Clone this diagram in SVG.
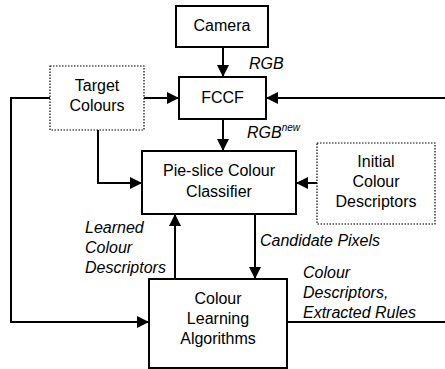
<svg xmlns="http://www.w3.org/2000/svg" width="445" height="369" viewBox="0 0 445 369">
<style>
  text { font-family: "Liberation Sans", Arial, sans-serif; font-size: 16px; fill: #000; }
  .c { text-anchor: middle; }
  .i { font-style: italic; }
  .box { fill: #fff; stroke: #000; stroke-width: 2; }
  .dot { fill: #fff; stroke: #000; stroke-width: 1.2; stroke-dasharray: 1.5 1.5; }
  .ln { fill: none; stroke: #000; stroke-width: 2; }
</style>
<defs>
  <marker id="ah" markerUnits="userSpaceOnUse" viewBox="0 0 12 12" refX="12" refY="6" markerWidth="12" markerHeight="12" orient="auto">
    <polygon points="0,0 12,6 0,12" fill="#000"/>
  </marker>
</defs>
<rect width="445" height="369" fill="#fff"/>
<g id="connectors">
  <path class="ln" d="M223,47 V77" marker-end="url(#ah)"/>
  <path class="ln" d="M144,98 H179" marker-end="url(#ah)"/>
  <path class="ln" d="M445,98 H266" marker-end="url(#ah)"/>
  <path class="ln" d="M223,119 V151" marker-end="url(#ah)"/>
  <path class="ln" d="M98,130 V183 H142" marker-end="url(#ah)"/>
  <path class="ln" d="M317,183 H296" marker-end="url(#ah)"/>
  <path class="ln" d="M50,98 H11 V322 H149" marker-end="url(#ah)"/>
  <path class="ln" d="M175,279 V214" marker-end="url(#ah)"/>
  <path class="ln" d="M255,214 V279" marker-end="url(#ah)"/>
  <path class="ln" d="M287,322 H445"/>
  <text class="i" x="249" y="69">RGB</text>
  <text class="i" x="247" y="138">RGB<tspan font-size="10" dy="-7">new</tspan></text>
  <text class="i" x="85" y="233">Learned</text>
  <text class="i" x="85" y="253">Colour</text>
  <text class="i" x="85" y="273">Descriptors</text>
  <text class="i" x="260" y="246">Candidate Pixels</text>
  <text class="i" x="303" y="278">Colour</text>
  <text class="i" x="303" y="298">Descriptors,</text>
  <text class="i" x="303" y="318">Extracted Rules</text>
</g>
<g id="camera">
  <rect class="box" x="176" y="6" width="92" height="41"/>
  <text class="c" x="222" y="31">Camera</text>
</g>
<g id="fccf">
  <rect class="box" x="179" y="77" width="87" height="42"/>
  <text class="c" x="222.5" y="103">FCCF</text>
</g>
<g id="target-colours">
  <rect class="dot" x="50" y="66" width="94" height="64"/>
  <text class="c" x="97" y="91">Target</text>
  <text class="c" x="97" y="111">Colours</text>
</g>
<g id="pie-slice">
  <rect class="box" x="142" y="151" width="154" height="63"/>
  <text class="c" x="219" y="176">Pie-slice Colour</text>
  <text class="c" x="219" y="197">Classifier</text>
</g>
<g id="initial-colour-descriptors">
  <rect class="dot" x="317" y="143" width="118" height="81"/>
  <text class="c" x="376" y="167">Initial</text>
  <text class="c" x="376" y="187">Colour</text>
  <text class="c" x="376" y="207">Descriptors</text>
</g>
<g id="colour-learning">
  <rect class="box" x="149" y="279" width="138" height="89"/>
  <text class="c" x="218" y="304">Colour</text>
  <text class="c" x="218" y="324">Learning</text>
  <text class="c" x="218" y="344">Algorithms</text>
</g>
</svg>
